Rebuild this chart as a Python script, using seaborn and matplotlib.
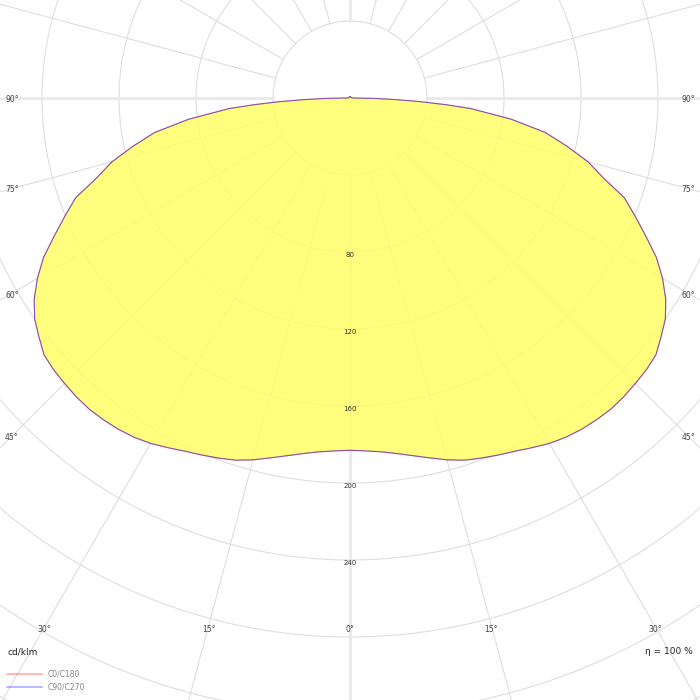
import numpy as np
import matplotlib
matplotlib.use("Agg")
import matplotlib.pyplot as plt
from matplotlib.lines import Line2D
import seaborn as sns

# Luminous intensity (cd/klm) per gamma angle
gamma_deg = [0, 2.5, 5, 7.5, 10, 12.5, 15, 17.5, 20, 22.5, 25, 27.5, 30, 32.5,
             35, 37.5, 40, 42.5, 45, 47.5, 50, 52.5, 55, 57.5, 60, 62.5, 65,
             67.5, 70, 72.5, 75, 77.5, 80, 82.5, 85, 86, 87, 88, 89, 90, 100, 180]
c0_c180 = [183, 183.5, 184.5, 186.3, 188.7, 191.5, 194.6, 197.3, 199.1, 200.8,
           202.5, 204.8, 207.2, 208.9, 210, 210.6, 210.9, 210.5, 209.7, 208.9,
           207.5, 203.7, 200, 194.5, 187.5, 179.5, 169.5, 160.3, 151.7, 138,
           128, 115.3, 103, 84.5, 63, 50, 37, 24, 13, 2, 0.8, 0.8]
c90_c270 = [183, 183.5, 184.5, 186.3, 188.7, 191.5, 194.6, 197.3, 199.1, 200.8,
            202.5, 204.8, 207.2, 208.9, 210, 210.6, 210.9, 210.5, 209.7, 208.9,
            207.5, 203.7, 200, 194.5, 187.5, 179.5, 169.5, 160.3, 151.7, 138,
            128, 115.3, 103, 84.5, 63, 50, 37, 24, 13, 2, 0.8, 0.8]

ring_values = [40, 80, 120, 160, 200, 240, 280, 320, 360, 400]
ring_labels = [80, 120, 160, 200, 240]
spoke_angles = list(range(0, 360, 15))
legend_labels = ["C0/C180", "C90/C270"]

sns.set_theme(style="white")
plt.rcParams['font.family'] = ['DejaVu Sans']

W = 700
fig = plt.figure(figsize=(7, 7), dpi=100)
# polar axes bigger than the figure, centre at (350, 98) px from top
px_per_unit = 1.925
rmax = 400
half = rmax * px_per_unit / W
cx, cy = 0.5, 1 - 98 / W
ax = fig.add_axes([cx - half, cy - half, 2 * half, 2 * half], projection='polar')
ax.set_theta_zero_location('S')
ax.set_theta_direction(1)
ax.set_rlim(0, rmax)
ax.grid(False)
ax.set_xticks([])
ax.set_yticks([])
ax.spines['polar'].set_visible(False)

# grid
t = np.linspace(0, 2 * np.pi, 720)
for rv in ring_values:
    ax.plot(t, np.full_like(t, rv), color='#dedede', lw=0.8, zorder=1)
for a in spoke_angles:
    th = np.deg2rad(a)
    main = a % 90 == 0
    ax.plot([th, th], [40, rmax], color='#e9e9e9' if main else '#dedede',
            lw=2.0 if main else 0.8, zorder=1)

def both_sides(g, v):
    g = np.deg2rad(np.array(g, dtype=float))
    v = np.array(v, dtype=float)
    th = np.concatenate([-g[::-1], g[1:]])
    rr = np.concatenate([v[::-1], v[1:]])
    return th, rr

th0, r0 = both_sides(gamma_deg, c0_c180)
th90, r90 = both_sides(gamma_deg, c90_c270)

ax.fill(th0, r0, color='#ffff66', alpha=0.85, lw=0, zorder=2)
sns.lineplot(x=th0, y=r0, ax=ax, sort=False, estimator=None,
             color='#ff0000', alpha=0.45, lw=0.8, zorder=3)
sns.lineplot(x=th90, y=r90, ax=ax, sort=False, estimator=None,
             color='#0000ff', alpha=0.45, lw=0.8, zorder=3)
ax.set_xlabel('')
ax.set_ylabel('')
ax.set_rlim(0, rmax)

for rv in ring_labels:
    ax.text(0, rv + 1.4, str(rv), ha='center', va='center', fontsize=5,
            color='#333333', zorder=4)

# angle labels
def ftext(x, y, s, **kw):
    fig.text(x / W, 1 - y / W, s, fontsize=5.5, color='#444444',
             va='center', **kw)

for lab, y in [("90°", 100), ("75°", 190), ("60°", 295), ("45°", 437)]:
    ftext(5, y, lab, ha='left')
    ftext(695, y, lab, ha='right')
for lab, x in [("30°", 44), ("15°", 209), ("0°", 350), ("15°", 491), ("30°", 655)]:
    ftext(x, 629, lab, ha='center')

fig.text(7 / W, 1 - 652 / W, "cd/klm", fontsize=6.5, color='#222222',
         ha='left', va='center')
fig.text(693 / W, 1 - 652 / W, "η = 100 %", fontsize=6.5, color='#222222',
         ha='right', va='center')

# legend
for lab, col, y in [(legend_labels[0], '#ff0000', 674),
                    (legend_labels[1], '#0000ff', 687)]:
    fig.add_artist(Line2D([7 / W, 42 / W], [1 - y / W] * 2,
                          transform=fig.transFigure, color=col, alpha=0.3, lw=1.3))
    fig.text(48 / W, 1 - y / W, lab, fontsize=5.5, color='#888888',
             ha='left', va='center')

fig.savefig("out.png", dpi=100, facecolor='white')
